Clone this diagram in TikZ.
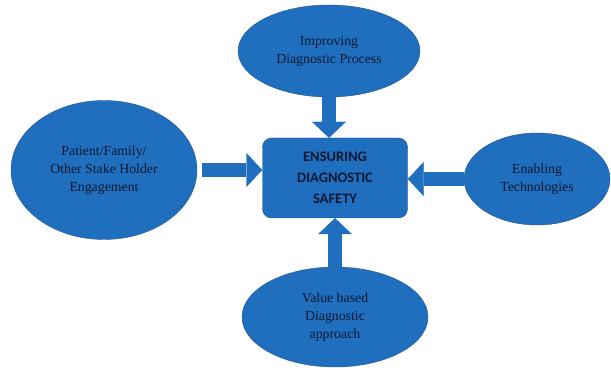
\documentclass[tikz,border=0pt]{standalone}
\usepackage{fontspec}
\setmainfont{Liberation Serif}
\newfontfamily\calib{Carlito}
\usetikzlibrary{arrows.meta,shapes.geometric}
\definecolor{dsblue}{RGB}{31,111,190}
\definecolor{dsedge}{RGB}{38,84,142}
\definecolor{dstext}{RGB}{14,24,50}

\begin{document}
\begin{tikzpicture}[x=1pt,y=-1pt,
  goal/.style={ellipse,fill=dsblue,draw=dsedge,thin,inner sep=0pt,align=center,text=dstext,font=\fontsize{13.8}{18}\selectfont},
  hub/.style={rectangle,rounded corners=9pt,fill=dsblue,draw=dsedge,thin,align=center,text=dstext,font=\calib\bfseries\fontsize{14.5}{21}\selectfont},
  feed/.style={-{Triangle[width=34pt,length=16pt,line width=0.4pt]},line width=14pt,color=dsblue}]
\useasboundingbox (0,0) rectangle (611,371);

\node[hub,minimum width=145pt,minimum height=80pt] (safe) at (335,178) {ENSURING\\DIAGNOSTIC\\SAFETY};

\node[goal,minimum width=182pt,minimum height=92pt] (imp) at (329,51) {Improving\\Diagnostic Process};
\node[goal,minimum width=186pt,minimum height=139pt] (pat) at (104,170) {Patient/Family/\\Other Stake Holder\\Engagement};
\node[goal,minimum width=146pt,minimum height=92pt] (tech) at (537,179) {Enabling\\Technologies};
\node[goal,minimum width=186pt,minimum height=100pt] (val) at (335,317) {Value based\\Diagnostic\\approach};

\draw[feed] (imp.south) -- (imp.south |- safe.north);
\draw[feed,shorten <=5pt] (pat.east) -- (pat.east -| safe.west);
\draw[feed] (tech.west) -- (tech.west -| safe.east);
\draw[feed] (val.north) -- (val.north |- safe.south);

\end{tikzpicture}
\end{document}
